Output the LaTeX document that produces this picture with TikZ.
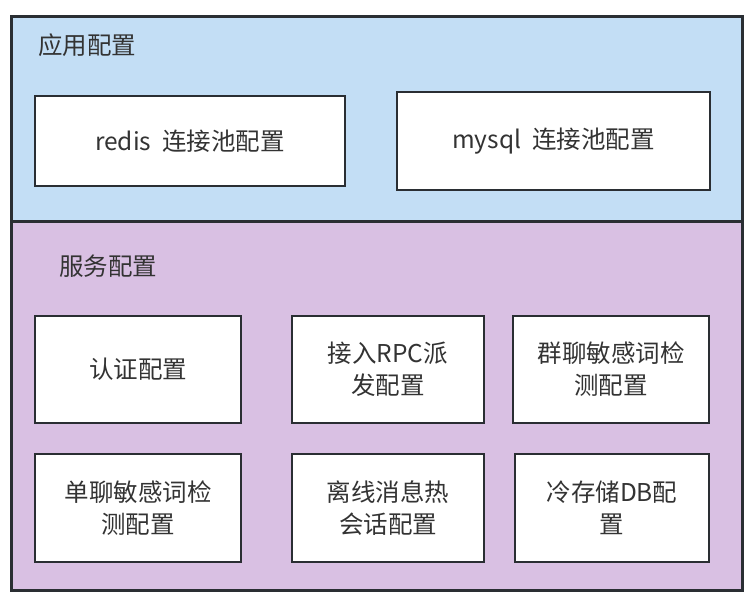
\documentclass[tikz,border=0pt]{standalone}
\usepackage{fontspec}
\setmainfont{Noto Sans CJK SC}
\usepackage{xcolor}
\usepackage{tikz}
\usetikzlibrary{positioning}
\definecolor{appblue}{RGB}{195,222,245}
\definecolor{svcviolet}{RGB}{217,192,227}
\definecolor{edgedark}{RGB}{42,46,51}
\definecolor{textdark}{RGB}{51,51,51}

\begin{document}
\begin{tikzpicture}[x=1pt, y=-1pt]
		\tikzstyle{panel}=[draw=edgedark, line width=2.8pt, anchor=north west, inner sep=0pt]
		\tikzstyle{cfgbox}=[draw=edgedark, line width=2.8pt, fill=white, text=textdark, align=center, font=\fontsize{24.5}{32}\selectfont]
		\tikzstyle{title}=[text=textdark, anchor=west, inner sep=0pt, font=\fontsize{24.5}{30}\selectfont]
		
		\useasboundingbox (0,0) rectangle (752,612);
		
		\node [panel, fill=appblue, minimum width=731pt, minimum height=205pt](app) at (10,15) {};
		\node [panel, fill=svcviolet, minimum width=731pt, minimum height=369pt](svc) at (10,220) {};
		
		\node [below right=30pt and 28pt of app.north west, title](appT) {应用配置};
		\node [below right=46pt and 49pt of svc.north west, title](svcT) {服务配置};
		
		\node (redis) at (190,141)[cfgbox, minimum width=310pt, minimum height=90pt] {redis\ \ 连接池配置};
		\node (mysql) at (553.5,141)[cfgbox, minimum width=313pt, minimum height=98pt] {mysql\ \ 连接池配置};
		
		\node (auth) at (138,369.5)[cfgbox, minimum width=206pt, minimum height=107pt] {认证配置};
		\node (rpc) at (388,369.5)[cfgbox, minimum width=192pt, minimum height=107pt] {接入RPC派\\发配置};
		\node (group) at (611,369.5)[cfgbox, minimum width=196pt, minimum height=107pt] {群聊敏感词检\\测配置};
		
		\node (single) at (138,508)[cfgbox, minimum width=206pt, minimum height=108pt] {单聊敏感词检\\测配置};
		\node (offline) at (388,508)[cfgbox, minimum width=192pt, minimum height=108pt] {离线消息热\\会话配置};
		\node (cold) at (612,508)[cfgbox, minimum width=194pt, minimum height=108pt] {冷存储DB配\\置};
		\end{tikzpicture}
\end{document}
